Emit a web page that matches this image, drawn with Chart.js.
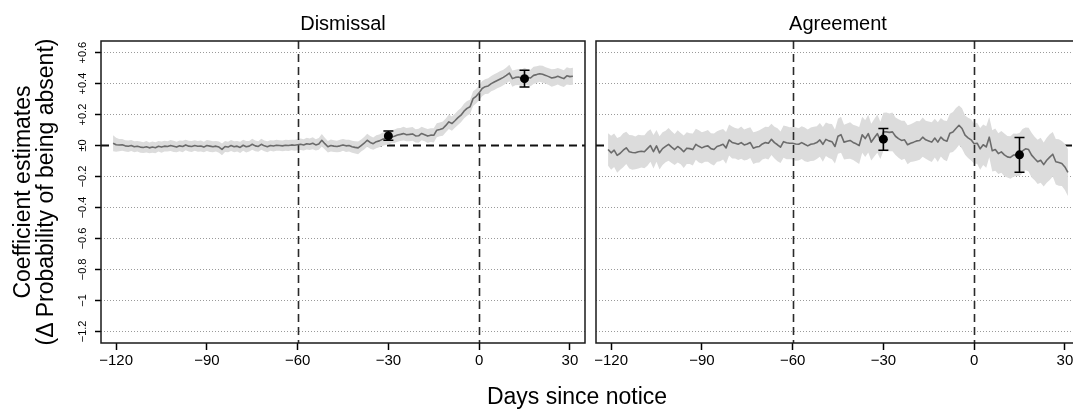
<!DOCTYPE html>
<html>
<head>
<meta charset="utf-8">
<script src="https://cdn.jsdelivr.net/npm/chart.js@4.4.1/dist/chart.umd.min.js"></script>
<style>
  html, body { margin: 0; padding: 0; background: #fff; overflow: hidden; }
  #wrap { position: relative; width: 1073px; height: 410px; overflow: hidden;
          font-family: 'Liberation Sans', Arial, sans-serif; color: #000; }
  #wrap canvas { position: absolute; top: 0; }
  .lbl { position: absolute; white-space: nowrap; text-align: center; font-size: 20px; line-height: 24px; }
  .axis-title { font-size: 23px; }
</style>
</head>
<body>
<div id="wrap">
  <canvas id="chart-dismissal" width="592" height="410" style="left:0"></canvas>
  <canvas id="chart-agreement" width="500" height="410" style="left:590px"></canvas>
  <div class="lbl" style="left:243px; top:11px; width:200px;">Dismissal</div>
  <div class="lbl" style="left:738px; top:11px; width:200px;">Agreement</div>
  <div class="lbl axis-title" style="left:377px; top:383px; width:400px; line-height:27px;">Days since notice</div>
  <div class="lbl axis-title" style="left:-166px; top:169px; width:400px; height:46px; line-height:23px; transform:rotate(-90deg);">
    Coefficient estimates<br>(Δ Probability of being absent)
  </div>
</div>
<script>
// Event-study estimates, one value per day from day -121 to day +31
const DAYS = Array.from({ length: 153 }, (_, i) => i - 121);

const X_TICKS = [-120, -90, -60, -30, 0, 30];
const Y_TICKS = [0.6, 0.4, 0.2, 0, -0.2, -0.4, -0.6, -0.8, -1, -1.2];
const Y_TICK_LABELS = ['+0.6', '+0.4', '+0.2', '±0', '−0.2', '−0.4', '−0.6', '−0.8', '−1', '−1.2'];
const EVENT_DAYS = [-60, 0];

// Dismissal: daily estimate and half-width of its confidence band
const DIS_EST = [
   0.015,  0.005,  0.003,  0.005, -0.002, -0.005,  0.000, -0.008, -0.005, -0.010,
  -0.013, -0.008, -0.015, -0.010, -0.014, -0.005, -0.010, -0.004, -0.006,  0.000,
  -0.005, -0.010, -0.002, -0.006,  0.004, -0.004, -0.006,  0.000, -0.005, -0.003,
  -0.010,  0.000, -0.004, -0.008, -0.004, -0.010, -0.025, -0.006, -0.010,  0.000,
  -0.008, -0.004, -0.012,  0.002, -0.008, -0.004,  0.008, -0.002, -0.006,  0.008,
  -0.002, -0.008,  0.000, -0.003,  0.002,  0.000, -0.002,  0.002,  0.000,  0.004,
   0.002,  0.005,  0.008,  0.004,  0.012,  0.008,  0.015,  0.004,  0.010,  0.034,
   0.012, -0.008,  0.000, -0.004, -0.006, -0.002,  0.004, -0.002,  0.000, -0.008,
  -0.012, -0.015,  0.000,  0.015,  0.034,  0.020,  0.012,  0.025,  0.030,  0.040,
   0.045,  0.050,  0.056,  0.060,  0.068,  0.072,  0.077,  0.070,  0.072,  0.075,
   0.062,  0.063,  0.078,  0.070,  0.061,  0.067,  0.066,  0.099,  0.104,  0.110,
   0.130,  0.153,  0.142,  0.160,  0.180,  0.196,  0.222,  0.240,  0.250,  0.303,
   0.318,  0.340,  0.368,  0.380,  0.385,  0.400,  0.410,  0.420,  0.430,  0.440,
   0.453,  0.468,  0.432,  0.440,  0.443,  0.435,  0.450,  0.440,  0.436,  0.453,
   0.458,  0.464,  0.460,  0.453,  0.445,  0.436,  0.440,  0.447,  0.440,  0.432,
   0.450,  0.445,  0.447
];
const DIS_HW = [
  0.052, 0.045, 0.040, 0.038, 0.036, 0.037, 0.035, 0.036, 0.034, 0.036,
  0.035, 0.037, 0.034, 0.036, 0.035, 0.034, 0.036, 0.035, 0.033, 0.035,
  0.036, 0.034, 0.035, 0.037, 0.034, 0.035, 0.036, 0.034, 0.035, 0.036,
  0.034, 0.035, 0.037, 0.035, 0.034, 0.036, 0.038, 0.035, 0.034, 0.036,
  0.035, 0.034, 0.036, 0.035, 0.037, 0.034, 0.036, 0.035, 0.034, 0.036,
  0.035, 0.036, 0.034, 0.035, 0.036, 0.034, 0.035, 0.036, 0.035, 0.034,
  0.036, 0.035, 0.037, 0.036, 0.038, 0.037, 0.039, 0.036, 0.038, 0.040,
  0.038, 0.037, 0.039, 0.038, 0.037, 0.039, 0.038, 0.040, 0.038, 0.039,
  0.040, 0.041, 0.039, 0.040, 0.042, 0.041, 0.040, 0.042, 0.041, 0.043,
  0.042, 0.043, 0.042, 0.044, 0.043, 0.042, 0.044, 0.043, 0.045, 0.044,
  0.043, 0.045, 0.044, 0.043, 0.045, 0.044, 0.046, 0.045, 0.044, 0.046,
  0.045, 0.047, 0.046, 0.045, 0.047, 0.046, 0.048, 0.047, 0.046, 0.048,
  0.047, 0.048, 0.049, 0.048, 0.050, 0.049, 0.051, 0.050, 0.052, 0.050,
  0.051, 0.053, 0.052, 0.050, 0.052, 0.054, 0.053, 0.051, 0.053, 0.055,
  0.054, 0.052, 0.055, 0.053, 0.054, 0.056, 0.054, 0.053, 0.055, 0.054,
  0.056, 0.054, 0.055
];
// Dismissal: pooled pre/post estimates with 95% intervals
const DIS_PT_X   = [-30, 15];
const DIS_PT_EST = [0.062, 0.432];
const DIS_PT_LO  = [0.034, 0.378];
const DIS_PT_HI  = [0.094, 0.486];

// Agreement: daily estimate and half-width of its confidence band
const AGR_EST = [
  -0.026, -0.047, -0.030, -0.063, -0.050, -0.030, -0.015, -0.040, -0.045, -0.047,
  -0.040, -0.037, -0.040, -0.020,  0.000, -0.040, -0.002, -0.047, -0.020, -0.006,
   0.008, -0.010, -0.026, -0.006, -0.020, -0.040, -0.017, -0.020, -0.026,  0.008,
  -0.005, -0.015, -0.006, -0.002, -0.020, -0.026, -0.006,  0.000,  0.008, -0.015,
   0.036,  0.020,  0.015,  0.008,  0.019,  0.004,  0.010,  0.019, -0.017, -0.010,
  -0.006,  0.010,  0.019,  0.015,  0.040,  0.019,  0.005, -0.011,  0.025,  0.018,
   0.015,  0.015,  0.010,  0.008,  0.019,  0.008, -0.002,  0.008,  0.012,  0.019,
   0.036,  0.008,  0.040,  0.030,  0.025, -0.006,  0.060,  0.070,  0.022,  0.028,
   0.033,  0.020,  0.011,  0.000,  0.070,  0.045,  0.077,  0.022,  0.050,  0.077,
   0.033,  0.088,  0.088,  0.085,  0.088,  0.060,  0.045,  0.033,  0.037,  0.005,
   0.015,  0.022,  0.030,  0.033,  0.054,  0.037,  0.030,  0.022,  0.048,  0.022,
   0.054,  0.035,  0.028,  0.080,  0.088,  0.110,  0.131,  0.110,  0.067,  0.050,
   0.037,  0.011,  0.015, -0.021,  0.005, -0.009,  0.054, -0.034, -0.026, -0.052,
  -0.041, -0.060, -0.073, -0.077, -0.062, -0.060, -0.058, -0.035, -0.021, -0.026,
  -0.062, -0.084, -0.105, -0.095, -0.123, -0.095, -0.075, -0.056, -0.105, -0.110,
  -0.116, -0.138, -0.174
];
const AGR_HW = [
  0.105, 0.110, 0.108, 0.112, 0.106, 0.110, 0.104, 0.108, 0.111, 0.106,
  0.109, 0.104, 0.107, 0.110, 0.105, 0.108, 0.103, 0.107, 0.105, 0.102,
  0.106, 0.103, 0.100, 0.104, 0.101, 0.105, 0.102, 0.099, 0.103, 0.100,
  0.104, 0.101, 0.098, 0.102, 0.100, 0.103, 0.099, 0.101, 0.098, 0.102,
  0.100, 0.103, 0.099, 0.101, 0.104, 0.100, 0.102, 0.099, 0.103, 0.101,
  0.104, 0.100, 0.102, 0.105, 0.101, 0.103, 0.106, 0.102, 0.104, 0.107,
  0.103, 0.105, 0.108, 0.104, 0.106, 0.109, 0.105, 0.108, 0.110, 0.106,
  0.109, 0.112, 0.108, 0.111, 0.114, 0.110, 0.113, 0.116, 0.112, 0.115,
  0.118, 0.114, 0.117, 0.120, 0.116, 0.119, 0.122, 0.118, 0.121, 0.124,
  0.120, 0.123, 0.126, 0.122, 0.125, 0.121, 0.124, 0.127, 0.123, 0.126,
  0.122, 0.125, 0.128, 0.124, 0.127, 0.123, 0.126, 0.129, 0.125, 0.128,
  0.124, 0.127, 0.130, 0.126, 0.129, 0.132, 0.128, 0.131, 0.127, 0.130,
  0.133, 0.129, 0.132, 0.135, 0.131, 0.134, 0.130, 0.133, 0.136, 0.132,
  0.135, 0.138, 0.134, 0.137, 0.140, 0.136, 0.139, 0.142, 0.138, 0.141,
  0.144, 0.140, 0.143, 0.146, 0.142, 0.145, 0.148, 0.144, 0.147, 0.150,
  0.146, 0.149, 0.152
];
const AGR_PT_X   = [-30, 15];
const AGR_PT_EST = [0.041, -0.060];
const AGR_PT_LO  = [-0.030, -0.172];
const AGR_PT_HI  = [0.110, 0.052];

const FONT = "'Liberation Sans', Arial, sans-serif";

// Zero line under the band, event lines over it, whiskers and frame on top
const panelDecor = {
  id: 'panelDecor',
  beforeDatasetsDraw(chart) {
    const { ctx, chartArea: a, scales: { y } } = chart;
    const y0 = y.getPixelForValue(0);
    ctx.save();
    ctx.setLineDash([8, 5]);
    ctx.lineWidth = 2;
    ctx.strokeStyle = '#111';
    ctx.beginPath();
    ctx.moveTo(a.left, y0);
    ctx.lineTo(a.right, y0);
    ctx.stroke();
    ctx.restore();
  },
  afterDatasetDraw(chart, args, opts) {
    const { ctx, chartArea: a, scales: { x, y } } = chart;
    if (args.index === 1) {
      ctx.save();
      ctx.setLineDash([8, 5]);
      ctx.lineWidth = 1.6;
      ctx.strokeStyle = '#2a2a2a';
      EVENT_DAYS.forEach(d => {
        const px = Math.round(x.getPixelForValue(d)) + 0.5;
        ctx.beginPath();
        ctx.moveTo(px, a.top);
        ctx.lineTo(px, a.bottom);
        ctx.stroke();
      });
      ctx.restore();
    }
    if (args.index === 0) {
      const p = opts.pts;
      ctx.save();
      ctx.lineWidth = 1.6;
      ctx.strokeStyle = '#000';
      p.x.forEach((d, i) => {
        const px = x.getPixelForValue(d);
        const lo = y.getPixelForValue(p.lo[i]);
        const hi = y.getPixelForValue(p.hi[i]);
        ctx.beginPath();
        ctx.moveTo(px, lo); ctx.lineTo(px, hi);
        ctx.moveTo(px - 5, lo); ctx.lineTo(px + 5, lo);
        ctx.moveTo(px - 5, hi); ctx.lineTo(px + 5, hi);
        ctx.stroke();
      });
      ctx.restore();
    }
  },
  afterDraw(chart, args, opts) {
    const { ctx, chartArea: a, scales: { y } } = chart;
    ctx.save();
    ctx.lineWidth = 1.5;
    ctx.strokeStyle = '#1a1a1a';
    ctx.strokeRect(a.left, a.top, a.width, a.height);
    if (opts.yLabels) {
      ctx.fillStyle = '#000';
      ctx.font = '11px ' + FONT;
      ctx.textAlign = 'center';
      ctx.textBaseline = 'middle';
      Y_TICKS.forEach((v, i) => {
        ctx.save();
        ctx.translate(a.left - 18, y.getPixelForValue(v));
        ctx.rotate(-Math.PI / 2);
        ctx.fillText(Y_TICK_LABELS[i], 0, 0);
        ctx.restore();
      });
    }
    ctx.restore();
  },
};

function makePanel(canvasId, est, hw, pts, withYAxis) {
  const line = DAYS.map((d, i) => ({ x: d, y: est[i] }));
  const upper = DAYS.map((d, i) => ({ x: d, y: est[i] + hw[i] }));
  const lower = DAYS.map((d, i) => ({ x: d, y: est[i] - hw[i] }));
  const dots = pts.x.map((d, i) => ({ x: d, y: pts.est[i] }));

  return new Chart(document.getElementById(canvasId), {
    type: 'line',
    data: {
      datasets: [
        { data: line, borderColor: '#6b6b6b', borderWidth: 1.6, pointRadius: 0,
          tension: 0, borderJoinStyle: 'round', order: 1 },
        { data: upper, borderWidth: 0, pointRadius: 0, fill: '+1',
          backgroundColor: '#dcdcdc', order: 2 },
        { data: lower, borderWidth: 0, pointRadius: 0, fill: false, order: 3 },
        { data: dots, showLine: false, pointRadius: 4.5, pointBorderWidth: 0,
          pointBackgroundColor: '#000', order: 0 },
      ],
    },
    plugins: [panelDecor],
    options: {
      responsive: false,
      animation: false,
      events: [],
      layout: { padding: { top: 41, right: withYAxis ? 7 : 10, left: 0, bottom: 0 } },
      plugins: {
        legend: { display: false },
        tooltip: { enabled: false },
        panelDecor: { yLabels: withYAxis, pts },
      },
      scales: {
        x: {
          type: 'linear',
          min: -125,
          max: 35,
          afterBuildTicks: s => { s.ticks = X_TICKS.map(v => ({ value: v })); },
          afterFit: s => { s.height = 67; },
          border: { display: false },
          grid: { drawOnChartArea: false, drawTicks: true, tickLength: 7,
                  tickColor: '#000', tickWidth: 1.5, color: '#000' },
          ticks: {
            color: '#000',
            padding: 2,
            maxRotation: 0,
            font: { family: FONT, size: 15 },
            callback: v => (v < 0 ? '−' + Math.abs(v) : String(v)),
          },
        },
        y: {
          type: 'linear',
          min: -1.275,
          max: 0.675,
          afterBuildTicks: s => { s.ticks = Y_TICKS.map(v => ({ value: v })); },
          afterFit: s => { s.width = withYAxis ? 101 : 6; },
          border: { display: false, dash: [1, 2] },
          grid: {
            drawOnChartArea: true,
            drawTicks: withYAxis,
            tickLength: 6,
            tickColor: '#000',
            tickWidth: 1.5,
            lineWidth: 1,
            color: c => (c.tick && c.tick.value === 0 ? 'rgba(0,0,0,0)' : '#9a9a9a'),
          },
          ticks: { display: false },
        },
      },
    },
  });
}

makePanel('chart-dismissal', DIS_EST, DIS_HW,
  { x: DIS_PT_X, est: DIS_PT_EST, lo: DIS_PT_LO, hi: DIS_PT_HI }, true);
makePanel('chart-agreement', AGR_EST, AGR_HW,
  { x: AGR_PT_X, est: AGR_PT_EST, lo: AGR_PT_LO, hi: AGR_PT_HI }, false);
</script>
</body>
</html>
